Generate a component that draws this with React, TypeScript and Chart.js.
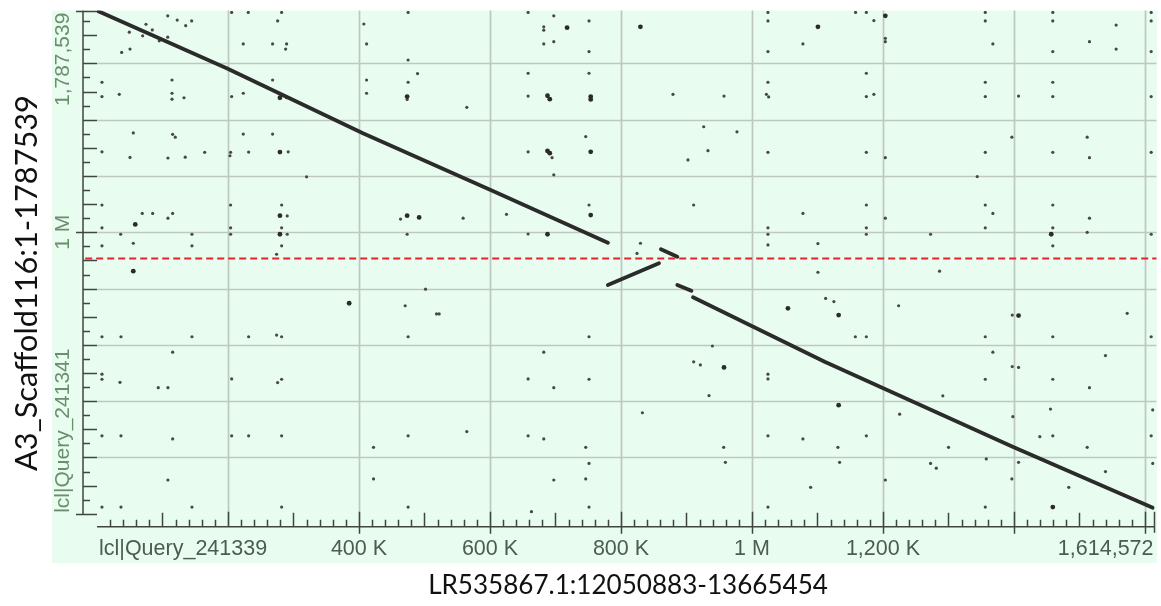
import React, { useEffect, useRef } from "react";
import { Chart, registerables } from "chart.js";

Chart.register(...registerables);

// ---------- data (all positions in kb) ----------
const X_MAX = 1614.572; // query length (kb)
const Y_MAX = 1787.539; // subject length (kb)

const xTickValues = [400, 600, 800, 1000, 1200];
const xTickLabels = ["400 K", "600 K", "800 K", "1 M", "1,200 K"];
const xStartLabel = "lcl|Query_241339";
const xEndLabel = "1,614,572";

const yTickValues = [1000];
const yTickLabels = ["1 M"];
const yStartLabel = "lcl|Query_241341";
const yEndLabel = "1,787,539";

const xTitle = "LR535867.1:12050883-13665454";
const yTitle = "A3_Scaffold116:1-1787539";

const cutoffY = 907; // red dashed line

// main diagonal, upper part
const diagTopX = [0, 198, 406, 607, 780];
const diagTopY = [1787.5, 1583, 1352, 1144, 963];
// inverted block
const invX = [780, 858];
const invY = [813, 890];
// short block above the cut line
const shortX = [861, 886];
const shortY = [940, 913];
// stub after the gap
const stubX = [886, 907.5];
const stubY = [813, 792.5];
// main diagonal, lower part
const diagBotX = [910, 1111, 1398, 1612];
const diagBotY = [769, 540, 238, 21.7];

const smallDots: [number, number][] = [
  [108, 1769], [122.5, 1754], [135.4, 1734], [144.5, 1751], [74.8, 1739], [49.3, 1711], [69.7, 1698],
  [84.4, 1719], [95.1, 1680], [108, 1693], [37.7, 1639], [50.4, 1651], [205.6, 1781], [230.9, 1781],
  [281.9, 1781], [275.8, 1751], [223.3, 1669], [268.1, 1669], [289.5, 1669], [288, 1651], [407.4, 1740],
  [411.6, 1669], [475, 1781], [475, 1612],
  [7.6, 1533], [7.6, 1482], [34, 1490], [114.5, 1541], [114.5, 1494], [114.5, 1473], [132.8, 1478],
  [205.6, 1482], [223.3, 1494], [268.1, 1541], [289.5, 1478], [411.6, 1541], [411.6, 1494], [475, 1533],
  [489.4, 1564], [473.5, 1472],
  [55.4, 1353], [115.5, 1348], [119.5, 1338], [7.6, 1286], [50.4, 1266], [108.3, 1264], [134.7, 1267],
  [164.4, 1284], [204, 1284], [203, 1272], [223.3, 1349], [231.5, 1285], [268.1, 1349], [291.9, 1286],
  [320, 1197],
  [7.6, 1097], [69.1, 1067], [85, 1067], [108.3, 1050], [115.5, 1067], [7.6, 1016], [36.2, 993],
  [145, 993], [204, 1097], [204, 1016], [204, 993], [281.9, 1097], [290.4, 1058], [281.9, 1016],
  [290.4, 993], [463.4, 1047], [473.5, 993], [7.6, 952], [55.4, 961], [145, 952], [281.9, 952], [274.2, 922],
  [658.2, 1781], [697.4, 1769], [751.2, 1751], [682.1, 1730], [682.1, 1718], [682.1, 1669], [697.4, 1677],
  [751.2, 1642], [1024.4, 1781], [1024.4, 1751], [1024.4, 1642], [1077.8, 1669],
  [564.6, 1444], [658.2, 1565], [658.2, 1484], [751.2, 1565], [879.4, 1490], [957.3, 1484], [1024.4, 1533],
  [1022, 1490], [1025.5, 1481],
  [658.2, 1286], [694.8, 1265], [746.2, 1340], [697.4, 1204], [926.3, 1375], [977.1, 1357], [932.8, 1290],
  [902.3, 1257], [1024.4, 1284],
  [559, 1050], [625.2, 1064], [751.2, 1097], [658.2, 994], [911, 1097], [1077.8, 1067], [1024.4, 1016],
  [1024.4, 993], [1024.4, 955], [1100.7, 960], [829.7, 961], [824.5, 925],
  [1158.2, 1781], [1174.6, 1781], [1186.1, 1752], [1203.6, 1689], [1203.6, 1677], [1356.2, 1781],
  [1356.2, 1751], [1367.8, 1669], [1459.3, 1781], [1459.3, 1751], [1459.3, 1642], [1556, 1736],
  [1515.3, 1677], [1556, 1651], [1609.5, 1781], [1609.5, 1751], [1609.5, 1642],
  [1174.6, 1565], [1174.6, 1482], [1186.1, 1490], [1356.2, 1533], [1356.2, 1482], [1407, 1484],
  [1459.3, 1533], [1459.3, 1482], [1609.5, 1482],
  [1174.6, 1284], [1203.6, 1265], [1356.2, 1284], [1396.8, 1338], [1459.3, 1284], [1511.8, 1338],
  [1515.3, 1265], [1609.5, 1284], [1343.9, 1198],
  [1174.6, 1097], [1203.6, 1050], [1174.6, 1016], [1174.6, 993], [1272.7, 993], [1356.2, 1097],
  [1367.8, 1067], [1356.2, 1016], [1459.3, 1097], [1459.3, 1016], [1515.3, 1050], [1511.8, 1000],
  [1459.3, 952], [1609.5, 993],
  [7.6, 629], [36.6, 629], [145, 629], [231.5, 629], [274.2, 635], [281.9, 629], [470.5, 739], [501.6, 798],
  [518.4, 710], [522.4, 710], [475, 629], [115.5, 574], [7.6, 496], [7.6, 478], [35.1, 467], [93.5, 448],
  [108.3, 448], [205.6, 479], [275.8, 466], [281.9, 478], [7.6, 277], [36.6, 277], [115.5, 266],
  [205.6, 277], [231.5, 277], [281.9, 277], [422.2, 236], [475, 277], [108.3, 120], [422.2, 124],
  [7.6, 24], [36.6, 24], [145, 24], [281.9, 24], [475, 24],
  [1100.7, 858], [751.2, 629], [682.1, 574], [658.2, 479], [697.4, 448], [751.2, 478], [939.6, 596],
  [911, 540], [921.2, 529], [934.4, 420], [1024.4, 496], [1024.4, 479], [832.7, 359], [564.6, 292],
  [658.2, 277], [682.1, 266], [746.2, 236], [751.2, 179], [697.4, 120], [746.2, 124], [751.2, 24],
  [663.3, 7.5], [956.8, 236], [959.4, 183], [1024.4, 277], [1077.8, 266], [1089.6, 94], [1024.4, 24],
  [1286.4, 862], [1112.5, 765], [1125.1, 754], [1223.9, 739], [1397.4, 706], [1572.9, 712], [1157.8, 629],
  [1174.6, 629], [1356.2, 629], [1459.3, 629], [1609.5, 629], [1367.8, 574], [1539.7, 562], [1397.4, 523],
  [1407, 520], [1356.2, 478], [1459.3, 478], [1515.3, 448], [1291.4, 419], [1225.5, 354], [1398.3, 345],
  [1455.8, 372], [1611.9, 369], [1174.6, 277], [1439.5, 274], [1459.3, 277], [1609.5, 277], [1131.2, 236],
  [1300.1, 236], [1511.8, 236], [1133.8, 183], [1272.7, 179], [1281.4, 162], [1357.7, 195], [1407, 183],
  [1539.7, 150], [1203.6, 120], [1396.8, 124], [1483.7, 94], [1356.2, 24], [1611.9, 179],
];

const bigDots: [number, number][] = [
  [279.3, 1478], [473.5, 1482], [279.3, 1285], [279.3, 1059], [279.3, 993], [473.5, 1059], [491.8, 1053],
  [58.4, 1028], [717.7, 1727], [829.7, 1730], [1100.7, 1730], [687.8, 1485], [691.3, 1473], [753.8, 1482],
  [753.8, 1472], [687.8, 1289], [691.3, 1281], [753.8, 1286], [753.8, 1061], [687.8, 993],
  [1203.6, 1769], [1456.9, 993], [55.4, 862], [385, 748], [1054.9, 730], [957.3, 520],
  [1132.3, 706], [1407, 704], [1132.3, 386], [1459.3, 24],
];

// ---------- styles ----------
const PANEL = "#e9fcf0";
const GRID = "rgba(160,165,160,0.6)";
const AXIS = "#3f4540";
const XLABEL = "#4c5c4f";
const YLABEL = "#6a8f6e";
const MARK = "#2b2b2b";
const DOT = "#484848";
const CUT = "#e5232b";

const toPts = (xs: number[], ys: number[]) => xs.map((x, i) => ({ x, y: ys[i] }));

function fitFont(ctx: CanvasRenderingContext2D, text: string, family: string, width: number) {
  ctx.font = `100px ${family}`;
  const w = ctx.measureText(text).width;
  return (100 * width) / w;
}

const framePlugin = {
  id: "frame",
  beforeDraw(chart: any) {
    const { ctx, scales } = chart;
    const x = scales.x;
    const y = scales.y;
    const x0 = x.getPixelForValue(0);
    const x1 = x.getPixelForValue(X_MAX);
    const y0 = y.getPixelForValue(0);
    const y1 = y.getPixelForValue(Y_MAX);
    const axisY = y0 + 13;
    const axisX = x0 - 14;

    ctx.save();
    ctx.fillStyle = "#ffffff";
    ctx.fillRect(0, 0, chart.width, chart.height);
    ctx.fillStyle = PANEL;
    ctx.fillRect(52, y1, 1157 - 52, 563 - y1);

    // grid
    ctx.strokeStyle = GRID;
    ctx.lineWidth = 1.7;
    ctx.beginPath();
    for (let v = 200; v < X_MAX; v += 200) {
      const px = Math.round(x.getPixelForValue(v)) + 0.5;
      ctx.moveTo(px, y1);
      ctx.lineTo(px, axisY);
    }
    for (let v = 200; v < Y_MAX; v += 200) {
      const py = Math.round(y.getPixelForValue(v)) + 0.5;
      ctx.moveTo(x0, py);
      ctx.lineTo(x1 + 2, py);
    }
    ctx.stroke();

    // axes
    ctx.strokeStyle = AXIS;
    ctx.lineWidth = 1.5;
    ctx.beginPath();
    ctx.moveTo(axisX, y1);
    ctx.lineTo(axisX, y0);
    ctx.moveTo(x0, axisY);
    ctx.lineTo(x1, axisY);

    // y ticks
    for (let i = 0; i * 50 <= Y_MAX; i++) {
      const v = i * 50;
      const py = Math.round(y.getPixelForValue(v)) + 0.5;
      const labeled = v === 0 || yTickValues.includes(v);
      if (labeled) {
        ctx.moveTo(axisX - 7, py);
        ctx.lineTo(x0, py);
      } else {
        ctx.moveTo(axisX, py);
        ctx.lineTo(axisX + (i % 2 === 0 ? 14 : 7), py);
      }
    }
    {
      const py = Math.round(y1) + 0.5;
      ctx.moveTo(axisX - 7, py);
      ctx.lineTo(x0, py);
    }
    // x ticks
    for (let i = 1; i * 20 <= X_MAX; i++) {
      const v = i * 20;
      const px = Math.round(x.getPixelForValue(v)) + 0.5;
      if (i % 10 === 0) {
        ctx.moveTo(px, axisY - 15);
        ctx.lineTo(px, v >= 400 ? axisY + 7 : axisY);
      } else if (i % 5 === 0) {
        ctx.moveTo(px, axisY - 14);
        ctx.lineTo(px, axisY);
      } else {
        ctx.moveTo(px, axisY - 7);
        ctx.lineTo(px, axisY);
      }
    }
    {
      const px = Math.round(x1) - 0.5;
      ctx.moveTo(px, axisY - 15);
      ctx.lineTo(px, axisY + 6);
    }
    ctx.stroke();

    // x tick labels
    ctx.font = "21.5px 'Liberation Sans', Arial, sans-serif";
    ctx.fillStyle = XLABEL;
    ctx.textBaseline = "middle";
    const ly = axisY + 22;
    ctx.textAlign = "center";
    xTickValues.forEach((v, i) => ctx.fillText(xTickLabels[i], x.getPixelForValue(v), ly));
    ctx.textAlign = "left";
    ctx.fillText(xStartLabel, x0 + 2, ly);
    ctx.textAlign = "right";
    ctx.fillText(xEndLabel, x1 - 1, ly);

    // y tick labels (rotated)
    ctx.font = "21px 'Liberation Sans', Arial, sans-serif";
    ctx.fillStyle = YLABEL;
    const lx = 63.5;
    const rot = (py: number, text: string, align: CanvasTextAlign) => {
      ctx.save();
      ctx.translate(lx, py);
      ctx.rotate(-Math.PI / 2);
      ctx.textAlign = align;
      ctx.fillText(text, 0, 0);
      ctx.restore();
    };
    yTickValues.forEach((v, i) => rot(y.getPixelForValue(v), yTickLabels[i], "center"));
    rot(y0 - 1, yStartLabel, "left");
    rot(y1 + 2, yEndLabel, "right");

    // axis titles
    const fam = "Lato, 'Open Sans', sans-serif";
    ctx.fillStyle = "#111111";
    const fx = fitFont(ctx, xTitle, fam, 400);
    ctx.font = `${fx}px ${fam}`;
    ctx.textAlign = "center";
    ctx.textBaseline = "middle";
    ctx.fillText(xTitle, 628, 586);
    const fy = fitFont(ctx, yTitle, fam, 376);
    ctx.font = `${fy}px ${fam}`;
    ctx.save();
    ctx.translate(27, 283);
    ctx.rotate(-Math.PI / 2);
    ctx.textAlign = "center";
    ctx.fillText(yTitle, 0, 0);
    ctx.restore();

    ctx.restore();
  },
};

export default function App() {
  const ref = useRef<HTMLCanvasElement | null>(null);

  useEffect(() => {
    if (!ref.current) return;
    const seg = (xs: number[], ys: number[]) => ({
      type: "line" as const,
      data: toPts(xs, ys),
      borderColor: MARK,
      borderWidth: 3.8,
      pointRadius: 0,
      showLine: true,
      fill: false,
      tension: 0,
      borderCapStyle: "round" as const,
      borderJoinStyle: "round" as const,
      order: 1,
    });
    const chart = new Chart(ref.current, {
      type: "scatter",
      data: {
        datasets: [
          {
            type: "line",
            data: [
              { x: -18, y: cutoffY },
              { x: X_MAX + 3, y: cutoffY },
            ],
            borderColor: CUT,
            borderWidth: 2,
            borderDash: [7, 4],
            pointRadius: 0,
            fill: false,
            clip: false,
            order: 0,
          } as any,
          seg(diagTopX, diagTopY),
          seg(invX, invY),
          seg(shortX, shortY),
          seg(stubX, stubY),
          seg(diagBotX, diagBotY),
          {
            data: bigDots.map(([x, y]) => ({ x, y })),
            backgroundColor: MARK,
            borderWidth: 0,
            pointRadius: 2.4,
            order: 2,
          },
          {
            data: smallDots.map(([x, y]) => ({ x, y })),
            backgroundColor: DOT,
            borderWidth: 0,
            pointRadius: 1.6,
            order: 3,
          },
        ],
      },
      options: {
        animation: false,
        responsive: false,
        devicePixelRatio: 1,
        events: [],
        layout: { padding: { left: 97, right: 6.5, top: 10.6, bottom: 92.2 } },
        plugins: { legend: { display: false }, tooltip: { enabled: false }, title: { display: false } },
        scales: {
          x: { type: "linear", min: 0, max: X_MAX, display: false },
          y: { type: "linear", min: 0, max: Y_MAX, display: false },
        },
      },
      plugins: [framePlugin],
    });
    return () => chart.destroy();
  }, []);

  return (
    <div style={{ position: "fixed", left: 0, top: 0, width: 1161, height: 606 }}>
      <canvas ref={ref} width={1161} height={606} style={{ width: 1161, height: 606 }} />
    </div>
  );
}
